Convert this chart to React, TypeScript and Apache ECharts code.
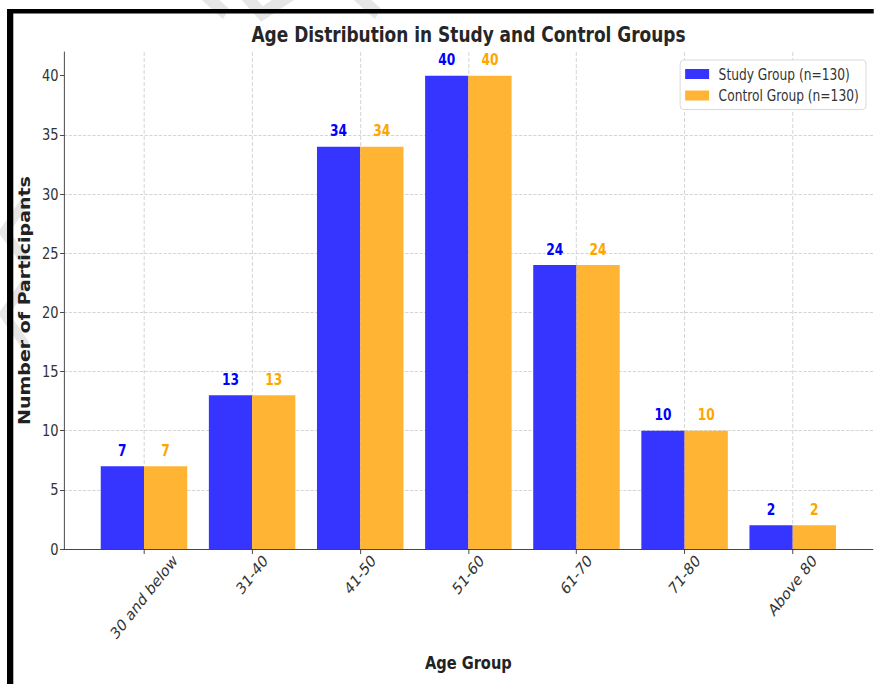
import React, { useEffect, useRef } from "react";
import * as echarts from "echarts";

// ---- data ----
const categories = ["30 and below", "31-40", "41-50", "51-60", "61-70", "71-80", "Above 80"];
const studyGroup = [7, 13, 34, 40, 24, 10, 2];
const controlGroup = [7, 13, 34, 40, 24, 10, 2];
const yTickValues = [0, 5, 10, 15, 20, 25, 30, 35, 40];
const seriesNames = ["Study Group (n=130)", "Control Group (n=130)"];

// ---- layout (the reference is horizontally compressed) ----
const S = 0.79;
const W = 874 / S;
const H = 684;
const ux = (x: number) => x / S;
const FONT = '"DejaVu Sans", sans-serif';
const TICK_FS = 16.5;

function measure(text: string, size: number) {
  const ctx = document.createElement("canvas").getContext("2d");
  if (!ctx) return text.length * size * 0.6;
  ctx.font = `${size}px "DejaVu Sans"`;
  return ctx.measureText(text).width;
}

export default function App() {
  const ref = useRef<HTMLDivElement>(null);

  useEffect(() => {
    if (!ref.current) return;
    const chart = echarts.init(ref.current, null, { renderer: "svg", width: W, height: H });

    const axisY = 549;
    const plotLeft = ux(64);
    const plotRight = ux(873);
    const cat0 = ux(144);
    const cat6 = ux(792.7);
    const step = (cat6 - cat0) / (categories.length - 1);
    const barW = step * 0.4;

    // rotated x labels centred under their tick (matplotlib style)
    const rich: Record<string, any> = {};
    categories.forEach((c, i) => {
      const L = measure(c, TICK_FS);
      const hb = TICK_FS;
      const pad = 3;
      const p = (pad + 0.3536 * (L + hb)) / 0.7071;
      rich["l" + i] = {
        fontSize: TICK_FS,
        fontFamily: FONT,
        color: "#333",
        padding: [p, p, 0, 0],
      };
    });

    const bdr = "#000";
    const wm = "#e6e6e6";

    chart.setOption({
      animation: false,
      backgroundColor: "#ffffff",
      title: {
        text: "Age Distribution in Study and Control Groups",
        left: (plotLeft + plotRight) / 2,
        textAlign: "center",
        top: 24,
        padding: 0,
        textStyle: { fontFamily: FONT, fontSize: 21.5, fontWeight: "bold", color: "#262626" },
      },
      legend: {
        data: seriesNames,
        orient: "vertical",
        right: W - ux(866),
        top: 60,
        padding: [6, 9, 6, ux(688) - ux(683)],
        itemGap: 5.5,
        itemWidth: ux(712) - ux(688),
        itemHeight: 10,
        icon: "rect",
        backgroundColor: "#fff",
        borderColor: "#d6d6d6",
        borderWidth: 1,
        borderRadius: 4,
        textStyle: { fontFamily: FONT, fontSize: 15.5, color: "#333", padding: [0, 0, 0, 7] },
      },
      graphic: [
        // faint watermark fragments
        { type: "polyline", z: -10, shape: { points: [[ux(204), -6], [ux(226), 14]] }, style: { stroke: wm, lineWidth: 13, fill: "none" } },
        { type: "polyline", z: -10, shape: { points: [[ux(244), -6], [ux(262), 14], [ux(292), -6]] }, style: { stroke: wm, lineWidth: 13, fill: "none" } },
        { type: "polyline", z: -10, shape: { points: [[ux(356), -6], [ux(378), 14]] }, style: { stroke: wm, lineWidth: 13, fill: "none" } },
        { type: "polyline", z: -10, shape: { points: [[ux(26), 200], [ux(4), 232], [ux(26), 262]] }, style: { stroke: wm, lineWidth: 11, fill: "none" } },
        { type: "polyline", z: -10, shape: { points: [[ux(26), 282], [ux(4), 314], [ux(26), 346]] }, style: { stroke: wm, lineWidth: 11, fill: "none" } },
        // black frame (top and left)
        { type: "rect", z: 100, shape: { x: ux(7), y: 9, width: W, height: 4.5 }, style: { fill: bdr } },
        { type: "rect", z: 100, shape: { x: ux(7), y: 9, width: ux(6.3), height: H }, style: { fill: bdr } },
      ],
      grid: [
        { left: plotLeft, right: W - plotRight, top: 52, bottom: H - axisY, containLabel: false },
        { left: cat0, right: W - cat6, top: 52, bottom: H - axisY, containLabel: false },
      ],
      xAxis: [
        {
          type: "value",
          gridIndex: 0,
          min: 0,
          max: 1,
          axisLine: { show: true, lineStyle: { color: "#333", width: 1 } },
          axisTick: { show: false },
          axisLabel: { show: false },
          splitLine: { show: false },
        },
        {
          type: "category",
          gridIndex: 1,
          data: categories,
          boundaryGap: false,
          axisLine: { show: false },
          axisTick: { show: true, length: 5, lineStyle: { color: "#333" } },
          axisLabel: {
            interval: 0,
            rotate: 45,
            align: "center",
            verticalAlign: "middle",
            margin: 0,
            hideOverlap: false,
            fontFamily: FONT,
            fontSize: TICK_FS,
            color: "#333",
            formatter: (v: string) => `{l${categories.indexOf(v)}|${v}}`,
            rich,
          },
          splitLine: { show: true, lineStyle: { type: [4, 2], color: "#d0d0d0", width: 1 } },
          name: "Age Group",
          nameLocation: "middle",
          nameGap: 104,
          nameTextStyle: { fontFamily: FONT, fontSize: 18.5, fontWeight: "bold", color: "#222", verticalAlign: "top" },
        },
      ],
      yAxis: [
        {
          type: "value",
          gridIndex: 0,
          min: 0,
          max: 42,
          interval: 5,
          axisLine: { show: true, lineStyle: { color: "#333", width: 1 } },
          axisTick: { show: true, length: 5, lineStyle: { color: "#333" }, customValues: yTickValues },
          axisLabel: {
            fontFamily: FONT,
            fontSize: TICK_FS,
            color: "#333",
            margin: 7,
            customValues: yTickValues,
          },
          splitLine: { show: true, showMaxLine: false, lineStyle: { type: [4, 2], color: "#d0d0d0", width: 1 } },
          name: "Number of Participants",
          nameLocation: "middle",
          nameRotate: 90,
          nameGap: 40,
          nameTextStyle: { fontFamily: FONT, fontSize: 19, fontWeight: "bold", color: "#222" },
        },
        { type: "value", gridIndex: 1, min: 0, max: 42, show: false },
      ],
      series: [
        {
          name: seriesNames[0],
          type: "bar",
          xAxisIndex: 1,
          yAxisIndex: 1,
          data: studyGroup,
          barWidth: barW,
          barGap: "0%",
          clip: false,
          itemStyle: { color: "#3535ff" },
          label: {
            show: true,
            position: "top",
            distance: 8,
            fontFamily: FONT,
            fontSize: 15.5,
            fontWeight: "bold",
            color: "#0000ff",
          },
        },
        {
          name: seriesNames[1],
          type: "bar",
          xAxisIndex: 1,
          yAxisIndex: 1,
          data: controlGroup,
          barWidth: barW,
          barGap: "0%",
          clip: false,
          itemStyle: { color: "#ffb434" },
          label: {
            show: true,
            position: "top",
            distance: 8,
            fontFamily: FONT,
            fontSize: 15.5,
            fontWeight: "bold",
            color: "#ffa500",
          },
        },
      ],
    });

    return () => chart.dispose();
  }, []);

  return (
    <div style={{ position: "fixed", left: 0, top: 0, width: 874, height: 684, overflow: "hidden", background: "#fff" }}>
      <div
        ref={ref}
        style={{ width: W, height: H, transform: `scaleX(${S})`, transformOrigin: "0 0" }}
      />
    </div>
  );
}
